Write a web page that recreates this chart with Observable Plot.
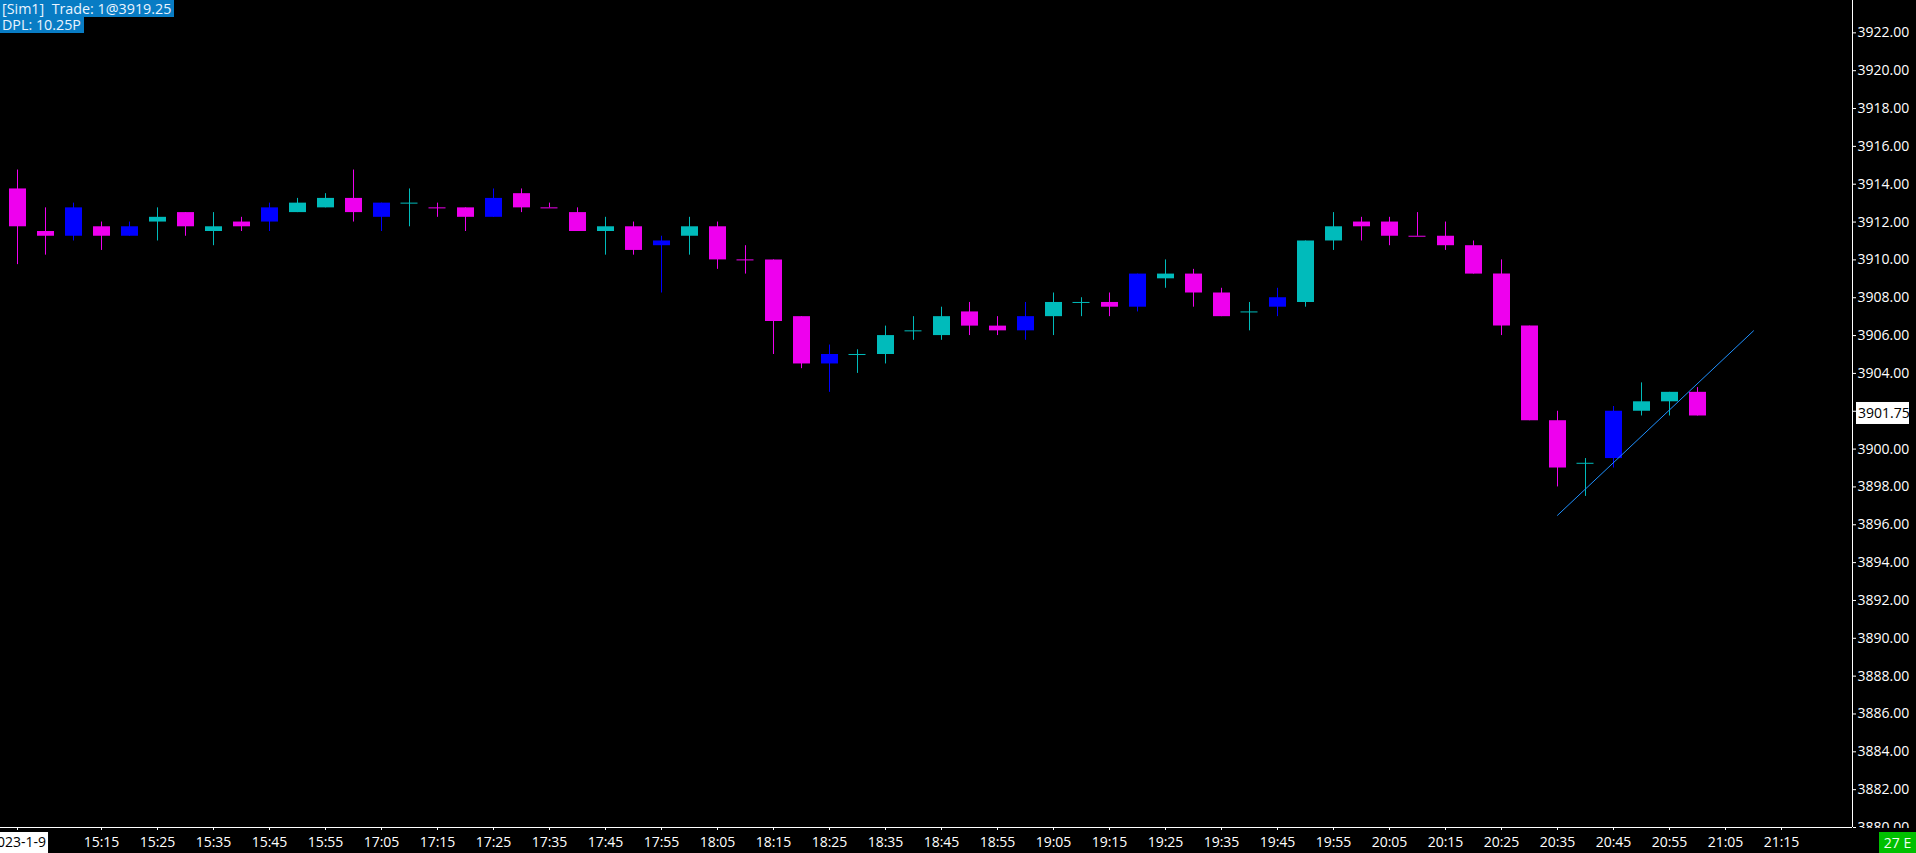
<!DOCTYPE html>
<html>
<head>
<meta charset="utf-8">
<script src="https://cdn.jsdelivr.net/npm/d3@7"></script>
<script src="https://cdn.jsdelivr.net/npm/@observablehq/plot@0.6"></script>
<style>
  html, body { margin: 0; padding: 0; background: #000; overflow: hidden; }
  #wrap { position: relative; width: 1916px; height: 853px; }
  .tag { position: absolute; left: 0; background: #087CC4; color: #EAF4FF;
         font-family: "Open Sans", "Noto Sans", sans-serif; font-size: 14.3px;
         white-space: pre; line-height: 16px; padding: 0 3px 0 2px; }
  #tag1 { top: 0; height: 17px; line-height: 17px; }
  #tag2 { top: 17px; height: 16px; }
  #conn { position: absolute; left: 1879px; top: 832px; width: 37px; height: 21px;
          background: #00C000; color: #F2FFF2; font-family: "Open Sans", sans-serif;
          font-size: 14px; line-height: 21px; text-align: center; }
</style>
</head>
<body>
<div id="wrap">
  <div id="chart"></div>
  <div class="tag" id="tag1"></div>
  <div class="tag" id="tag2"></div>
  <div id="conn"></div>
</div>
<script>
// ---- data ----
const barTimes = ["15:00","15:05","15:10","15:15","15:20","15:25","15:30","15:35","15:40","15:45","15:50","15:55","16:00",
  "17:05","17:10","17:15","17:20","17:25","17:30","17:35","17:40","17:45","17:50","17:55",
  "18:00","18:05","18:10","18:15","18:20","18:25","18:30","18:35","18:40","18:45","18:50","18:55",
  "19:00","19:05","19:10","19:15","19:20","19:25","19:30","19:35","19:40","19:45","19:50","19:55",
  "20:00","20:05","20:10","20:15","20:20","20:25","20:30","20:35","20:40","20:45","20:50","20:55","21:00"];
const futureTimes = ["21:05","21:10","21:15"];
const opens  = [3913.75,3911.5,3911.25,3911.75,3911.25,3912,3912.5,3911.5,3912,3912,3912.5,3912.75,3913.25,
  3912.25,3913,3912.75,3912.75,3912.25,3913.5,3912.75,3912.5,3911.5,3911.75,3910.75,3911.25,3911.75,3910,3910,3907,
  3904.5,3905,3905,3906.25,3906,3907.25,3906.5,3906.25,3907,3907.75,3907.75,3907.5,3909,3909.25,3908.25,3907.25,
  3907.5,3907.75,3911,3912,3912,3911.25,3911.25,3910.75,3909.25,3906.5,3901.5,3899.25,3899.5,3902,3902.5,3903];
const highs  = [3914.75,3912.75,3913,3912,3912,3912.75,3912.5,3912.5,3912.25,3913,3913.25,3913.5,3914.75,
  3913,3913.75,3913,3912.75,3913.75,3913.75,3913,3912.75,3912.25,3912,3911.25,3912.25,3912,3910.75,3910,3907,
  3905.5,3905.25,3906.5,3907,3907.5,3907.75,3907,3907.75,3908.25,3908,3908.25,3909.25,3910,3909.5,3908.5,3907.75,
  3908.5,3911,3912.5,3912.25,3912.25,3912.5,3912,3911,3910,3906.5,3902,3899.5,3902.25,3903.5,3903,3903.25];
const lows   = [3909.75,3910.25,3911,3910.5,3911.25,3911,3911.25,3910.75,3911.5,3911.5,3912.5,3912.75,3912,
  3911.5,3911.75,3912.25,3911.5,3912.25,3912.5,3912.75,3911.5,3910.25,3910.25,3908.25,3910.25,3909.5,3909.25,3905,3904.25,
  3903,3904,3904.5,3905.75,3905.75,3906,3906,3905.75,3906,3907,3907,3907.25,3908.5,3907.5,3907,3906.25,
  3907,3907.5,3910.5,3911,3910.75,3911.25,3910.5,3909.25,3906,3901.5,3898,3897.5,3899,3901.75,3901.75,3901.75];
const closes = [3911.75,3911.25,3912.75,3911.25,3911.75,3912.25,3911.75,3911.75,3911.75,3912.75,3913,3913.25,3912.5,
  3913,3913,3912.75,3912.25,3913.25,3912.75,3912.75,3911.5,3911.75,3910.5,3911,3911.75,3910,3910,3906.75,3904.5,
  3905,3905,3906,3906.25,3907,3906.5,3906.25,3907,3907.75,3907.75,3907.5,3909.25,3909.25,3908.25,3907,3907.25,
  3908,3911,3911.75,3911.75,3911.25,3911.25,3910.75,3909.25,3906.5,3901.5,3899,3899.25,3902,3902.5,3903,3901.75];
// bar colour class: d = down (magenta), u = up (cyan), b = blue
const barClass = ("ddbdbududb" + "uudbuddbdd" + "dudbuddddb" + "uuuuddbuud" + "buddubuudd" + "ddddddubuu" + "d").split("");
const colorClasses = ["d", "u", "b"];
const colorValues = ["#EE00EE", "#00BBBB", "#0000FF"];
const dateLabel = "2023-1-9";
const xTickLabels = ["15:15","15:25","15:35","15:45","15:55","17:05","17:15","17:25","17:35","17:45","17:55",
  "18:05","18:15","18:25","18:35","18:45","18:55","19:05","19:15","19:25","19:35","19:45","19:55",
  "20:05","20:15","20:25","20:35","20:45","20:55","21:05","21:15"];
const yTicks = [3880,3882,3884,3886,3888,3890,3892,3894,3896,3898,3900,3902,3904,3906,3908,3910,3912,3914,3916,3918,3920,3922];
const trendIdx = [55, 62];
const trendPrice = [3896.5, 3906.25];
const account = "[Sim1]  Trade: 1@3919.25";
const dpl = "DPL: 10.25P";
const connLabel = "27 E";

// ---- build ----
const slots = barTimes.concat(futureTimes);
const bars = barTimes.map((t, i) => ({i, t, open: opens[i], high: highs[i], low: lows[i], close: closes[i], cls: barClass[i]}));
const bodies = bars.filter(d => d.open !== d.close);
const dojis = bars.filter(d => d.open === d.close);
const trend = trendIdx.map((i, k) => ({i, price: trendPrice[k]}));
const tickPos = [0].concat(xTickLabels.map(l => slots.indexOf(l)));
const tickText = new Map([[0, dateLabel]].concat(xTickLabels.map(l => [slots.indexOf(l), l])));

const W = 1916, H = 853, plotRight = 1852, plotBottom = 827;
const barStep = 28, firstX = 17, bodyW = 17;
const xDomain = [-firstX / barStep, (plotRight - firstX) / barStep];
const yDomain = [3880, 3923.71];

const chart = Plot.plot({
  width: W, height: H,
  marginLeft: 0, marginRight: W - plotRight, marginTop: 0, marginBottom: H - plotBottom,
  style: {background: "#000", color: "#fff", fontFamily: "'Open Sans', 'Noto Sans', sans-serif", fontSize: "14px"},
  x: {domain: xDomain, axis: "bottom", ticks: tickPos, tickFormat: i => tickText.get(i), tickSize: 3, tickPadding: 7, label: null},
  y: {domain: yDomain, axis: "right", ticks: yTicks, tickFormat: d => d.toFixed(2), tickSize: 3, tickPadding: 2, label: null},
  color: {domain: colorClasses, range: colorValues},
  marks: [
    Plot.ruleY([yDomain[0]], {stroke: "#fff"}),
    Plot.ruleX([xDomain[1]], {stroke: "#fff"}),
    Plot.ruleX(bars, {x: "i", y1: "low", y2: "high", stroke: "cls", strokeWidth: 1}),
    Plot.ruleX(bodies, {x: "i", y1: "open", y2: "close", stroke: "cls", strokeWidth: bodyW}),
    Plot.ruleY(dojis, {y: "open", x1: d => d.i - bodyW / 2 / barStep, x2: d => d.i + bodyW / 2 / barStep, stroke: "cls", strokeWidth: 1}),
    Plot.line(trend, {x: "i", y: "price", stroke: "#1E90FF", strokeWidth: 1})
  ]
});
document.getElementById("chart").appendChild(chart);

// post-processing: date label box, clipping strip and last price label
const svg = d3.select(chart);
const svgBox = chart.getBoundingClientRect();
svg.selectAll("text").each(function () {
  if (this.textContent === dateLabel) {
    const tb = this.getBoundingClientRect();
    svg.insert("rect", ":first-child")
      .attr("x", 0).attr("y", plotBottom + 5)
      .attr("width", tb.right - svgBox.left + 2).attr("height", H - plotBottom - 5)
      .attr("fill", "#fff");
    d3.select(this).attr("fill", "#000");
  }
});
svg.append("rect").attr("x", plotRight + 1).attr("y", plotBottom + 1)
  .attr("width", W - plotRight - 1).attr("height", H - plotBottom - 1).attr("fill", "#000");
const lastClose = closes[closes.length - 1];
const yv = chart.scale("y").apply(lastClose);
svg.append("rect").attr("x", plotRight + 4).attr("y", yv - 13.5).attr("width", 53).attr("height", 22).attr("fill", "#fff");
svg.append("text").attr("x", plotRight + 6).attr("y", yv - 2.5).attr("dy", "0.35em")
  .attr("text-anchor", "start").attr("fill", "#000").attr("font-size", 14).text(lastClose.toFixed(2));

document.getElementById("tag1").textContent = account;
document.getElementById("tag2").textContent = dpl;
document.getElementById("conn").textContent = connLabel;
</script>
</body>
</html>
